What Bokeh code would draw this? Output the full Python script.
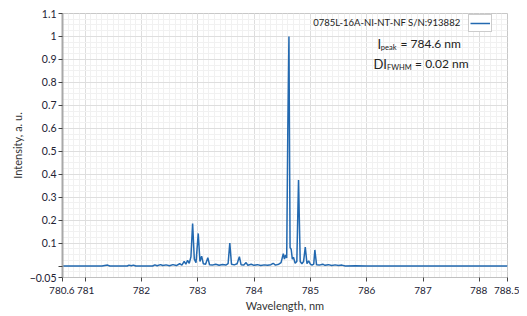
from bokeh.plotting import figure
from bokeh.models import (ColumnDataSource, FixedTicker, Label, Range1d,
                          Legend, LegendItem)
from bokeh.embed import file_html
from bokeh.resources import INLINE

# ---- data ----
wavelength = [780.60, 781.30, 781.40, 781.44, 781.75, 781.78, 781.82, 781.86, 781.90,
              782.20, 782.24, 782.28, 782.34, 782.38, 782.44, 782.50, 782.56, 782.62,
              782.68, 782.72, 782.76, 782.79, 782.82, 782.85, 782.88, 782.91, 782.94,
              782.97, 783.01, 783.04, 783.07, 783.10, 783.14, 783.18, 783.21, 783.26,
              783.32, 783.38, 783.44, 783.50, 783.54, 783.57, 783.60, 783.65, 783.70,
              783.74, 783.77, 783.82, 783.86, 783.89, 783.95, 784.00, 784.06, 784.12,
              784.18, 784.24, 784.30, 784.34, 784.38, 784.44, 784.48, 784.52, 784.54,
              784.56, 784.58, 784.60, 784.62, 784.64, 784.66, 784.68, 784.70, 784.73,
              784.76, 784.79, 784.82, 784.85, 784.88, 784.91, 784.94, 784.97, 785.00,
              785.03, 785.06, 785.08, 785.11, 785.16, 785.22, 785.26, 785.32, 785.38,
              785.44, 785.50, 785.56, 785.62, 785.80, 786.00, 788.50]
intensity = [0.000, 0.000, 0.004, 0.000, 0.000, 0.004, 0.001, 0.004, 0.000,
             0.000, 0.005, 0.001, 0.006, 0.002, 0.005, 0.001, 0.006, 0.002,
             0.010, 0.004, 0.020, 0.008, 0.025, 0.012, 0.040, 0.185, 0.030,
             0.015, 0.142, 0.020, 0.043, 0.010, 0.008, 0.036, 0.006, 0.004,
             0.008, 0.003, 0.007, 0.004, 0.010, 0.100, 0.008, 0.005, 0.010,
             0.041, 0.006, 0.004, 0.015, 0.003, 0.008, 0.003, 0.006, 0.002,
             0.005, 0.003, 0.006, 0.012, 0.004, 0.008, 0.015, 0.054, 0.030,
             0.048, 0.035, 0.600, 1.000, 0.080, 0.073, 0.030, 0.038, 0.012,
             0.020, 0.375, 0.020, 0.010, 0.020, 0.083, 0.010, 0.022, 0.008,
             0.004, 0.008, 0.070, 0.006, 0.004, 0.008, 0.003, 0.006, 0.002,
             0.005, 0.002, 0.004, 0.000, 0.001, 0.000, 0.000]

x_ticks = [780.6, 781, 782, 783, 784, 785, 786, 787, 788, 788.5]
y_ticks = [-0.05, 0, 0.1, 0.2, 0.3, 0.4, 0.5, 0.6, 0.7, 0.8, 0.9, 1.0, 1.1]
x_minor = [round(780.6 + 0.1 * i, 2) for i in range(80)]
y_minor = [round(-0.05 + 0.025 * i, 3) for i in range(47)]

series_name = "0785L-16A-NI-NT-NF S/N:913882"

FONT = "Lato"
TICK_COLOR = "#222233"
TXT = "#222222"

p = figure(width=519, height=314, output_backend="svg", toolbar_location=None,
           x_range=Range1d(780.6, 788.5), y_range=Range1d(-0.05, 1.1),
           min_border_left=62, min_border_right=12, min_border_top=13,
           min_border_bottom=36)

p.background_fill_color = "white"
p.border_fill_color = "white"
p.outline_line_color = "#c8c8c8"
p.outline_line_width = 1

# axes
p.xaxis.ticker = FixedTicker(ticks=x_ticks, minor_ticks=x_minor)
p.yaxis.ticker = FixedTicker(ticks=y_ticks, minor_ticks=y_minor)
p.yaxis.major_label_overrides = {0: ""}
p.xaxis.major_label_overrides = {780.6: "780.6\u2009", 781: "\u2009781",
                                 788: "788\u2009", 788.5: "\u2009788.5"}
for ax in (p.xaxis, p.yaxis):
    ax.major_label_text_font = FONT
    ax.major_label_text_font_size = "10.5px"
    ax.major_label_text_color = TICK_COLOR
    ax.axis_label_text_font = FONT
    ax.axis_label_text_font_size = "11px"
    ax.axis_label_text_font_style = "normal"
    ax.axis_label_text_color = "#333333"
    ax.major_tick_line_color = "#444444"
    ax.major_tick_in = 0
    ax.major_tick_out = 4
    ax.minor_tick_line_color = None
    ax.major_label_standoff = 2
    ax.axis_label_standoff = 3
p.xaxis.major_label_text_font_size = "10px"
p.yaxis.axis_line_color = "#a8a8a8"
p.yaxis.axis_line_width = 2
p.xaxis.axis_line_color = "#c0c0c0"
p.xaxis.axis_line_width = 1
p.xaxis.axis_label = "Wavelength, nm"
p.yaxis.axis_label = "Intensity, a. u."
p.xaxis.axis_label_standoff = 0
p.xaxis.major_label_standoff = 2

# grid
for g in (p.xgrid, p.ygrid):
    g.grid_line_color = "#dedede"
    g.grid_line_width = 1
    g.minor_grid_line_color = "#f1f1f1"
    g.minor_grid_line_width = 1

src = ColumnDataSource(data=dict(x=wavelength, y=intensity))
r = p.line("x", "y", source=src, line_color="#2369b0", line_width=1.5)

# legend: text as label, icon box on the right
p.add_layout(Label(x=785.05, y=1.062, text=series_name, text_font=FONT,
                   text_font_size="9.5px", text_color=TXT,
                   text_baseline="middle", text_align="left"))

leg = Legend(items=[LegendItem(label="", renderers=[r])],
             location=(406, 245), orientation="horizontal",
             glyph_width=20, glyph_height=14, padding=1, margin=0,
             label_width=0, label_standoff=0, spacing=0,
             border_line_color="#9a9a9a", border_line_width=1,
             background_fill_color="white", background_fill_alpha=1)
p.add_layout(leg)

# annotations
p.add_layout(Label(x=786.19, y=0.968, text="I", text_font=FONT, text_font_size="13px",
                   text_color=TXT, text_baseline="middle"))
p.add_layout(Label(x=786.25, y=0.952, text="peak", text_font=FONT, text_font_size="7.5px",
                   text_color=TXT, text_baseline="middle"))
p.add_layout(Label(x=786.60, y=0.968, text="= 784.6 nm", text_font=FONT, text_font_size="12px",
                   text_color=TXT, text_baseline="middle"))
p.add_layout(Label(x=786.12, y=0.881, text="DI", text_font=FONT, text_font_size="13px",
                   text_color=TXT, text_baseline="middle"))
p.add_layout(Label(x=786.36, y=0.866, text="FWHM", text_font=FONT, text_font_size="7.5px",
                   text_color=TXT, text_baseline="middle"))
p.add_layout(Label(x=786.86, y=0.881, text="= 0.02 nm", text_font=FONT, text_font_size="12px",
                   text_color=TXT, text_baseline="middle"))

open("out.html", "w").write(file_html(p, INLINE))
